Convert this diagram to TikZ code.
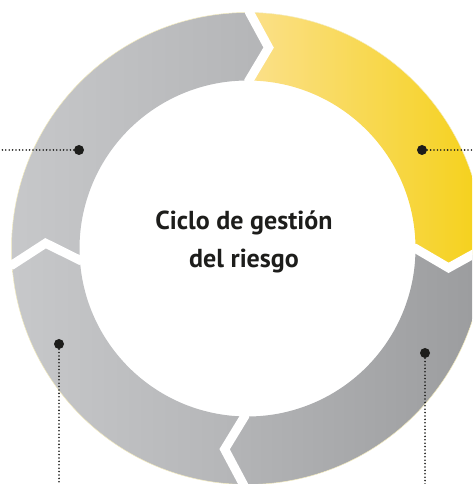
\documentclass[tikz,border=0pt]{standalone}
\usepackage{fontspec}
\setmainfont{PT Sans}
\usepackage{xcolor}
\definecolor{ink}{HTML}{1D1D1B}
\definecolor{greylight}{HTML}{C7C8CA}
\definecolor{greymid}{HTML}{B4B5B7}
\definecolor{greydark}{HTML}{9B9C9E}
\definecolor{yellowlight}{HTML}{FBE08A}
\definecolor{yellowdeep}{HTML}{F5D11A}
\definecolor{rim}{HTML}{F3EBBE}
\tikzset{
  every node/.style={text=ink},
  gap/.style={draw=white,line width=9pt,line cap=rect,line join=miter},
  rimline/.style={draw=rim,line width=0.5pt},
  dotmark/.style={circle,fill=ink,inner sep=0pt,minimum size=10pt},
  leader/.style={draw=ink,line width=1.8pt,line cap=round,dash pattern=on 0pt off 3.4pt},
  title/.style={font=\bfseries\fontsize{26}{38}\selectfont,align=center},
}
\newcommand{\ringpart}[4]{%
  \shade[left color=#3,right color=#4]
    (#1:\rin) -- (#1-\tilt:\rmid) -- (#1:\rout)
    arc[start angle=#1,end angle=#2,radius=\rout]
    -- (#2-\tilt:\rmid) -- (#2:\rin)
    arc[start angle=#2,end angle=#1,radius=\rin] -- cycle;}

\begin{document}
\begin{tikzpicture}[x=1pt,y=1pt]
\useasboundingbox (0,0) rectangle (472,484);
\clip (0,0) rectangle (472,484);
\def\rin{168}\def\rout{236}\def\rmid{202}\def\tilt{5.5}
\begin{scope}[shift={(247.5,235.5)}]
\ringpart{89.5}{0}{yellowlight}{yellowdeep}
\ringpart{0}{-91}{greymid}{greydark}
\ringpart{-91}{-176}{greylight}{greymid}
\ringpart{184}{89.5}{greylight}{greymid}
\draw[rimline] (0,0) circle[radius=\rout];
\foreach \a in {89.5,0,-91,184}
  \draw[gap] (\a:\rin-6) -- (\a:\rin) -- (\a-\tilt:\rmid) -- (\a:\rout) -- (\a:\rout+6);
\end{scope}
\node[title] (cycle) at (244,242) {Ciclo de gestión\\del riesgo};
\node[dotmark] (dotNW) at (79,334) {};
\node[dotmark] (dotNE) at (422,334) {};
\node[dotmark] (dotSW) at (59,140) {};
\node[dotmark] (dotSE) at (425,131) {};
\coordinate (endNW) at (0,334);
\coordinate (endNE) at (472,334);
\coordinate (endSW) at (59,0);
\coordinate (endSE) at (425,0);
\draw[leader] (dotNW) -- (endNW);
\draw[leader] (dotNE) -- (endNE);
\draw[leader] (dotSW) -- (endSW);
\draw[leader] (dotSE) -- (endSE);
\end{tikzpicture}
\end{document}
